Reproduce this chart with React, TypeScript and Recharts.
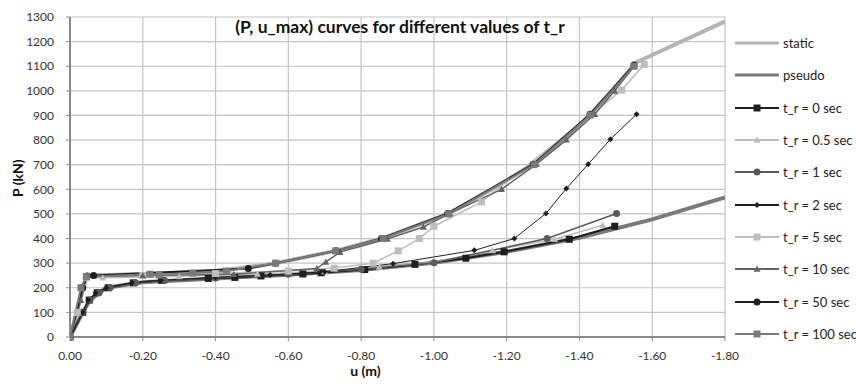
import { LineChart, Line, XAxis, YAxis, CartesianGrid } from 'recharts'

type Pt = [number, number]

// (u, P) pairs
const staticCurve: Pt[] = [
  [0, 0], [-0.046, 250], [-0.2, 256], [-0.4, 266], [-0.565, 300], [-0.73, 350], [-0.856, 400],
  [-1.038, 500], [-1.16, 600], [-1.273, 702], [-1.36, 800], [-1.43, 905], [-1.493, 1005],
  [-1.555, 1115], [-1.8, 1282],
]
const pseudoCurve: Pt[] = [
  [0, 0], [-0.035, 100], [-0.055, 150], [-0.1, 200], [-0.2, 222], [-0.4, 238], [-0.6, 253],
  [-0.8, 272], [-1.0, 302], [-1.2, 346], [-1.4, 403], [-1.6, 478], [-1.8, 567],
]
const tr0: Pt[] = [
  [0, 0], [-0.035, 100], [-0.053, 150], [-0.075, 180], [-0.105, 200], [-0.174, 220], [-0.252, 230],
  [-0.38, 238], [-0.453, 242], [-0.525, 248], [-0.64, 256], [-0.69, 261], [-0.81, 274],
  [-0.948, 295], [-1.088, 320], [-1.193, 346], [-1.372, 397], [-1.497, 450],
]
const tr05: Pt[] = [
  [0, 0], [-0.02, 100], [-0.03, 200], [-0.045, 240], [-0.09, 241], [-0.3, 246], [-0.515, 256],
  [-0.7, 266], [-0.85, 285], [-1.0, 305], [-1.161, 352], [-1.332, 397], [-1.464, 454],
]
const tr1: Pt[] = [
  [0, 0], [-0.035, 100], [-0.055, 150], [-0.08, 180], [-0.11, 200], [-0.18, 220], [-0.26, 230],
  [-0.4, 240], [-0.6, 255], [-0.8, 275], [-1.0, 302], [-1.311, 400], [-1.502, 502],
]
const tr2: Pt[] = [
  [0, 0], [-0.035, 100], [-0.05, 150], [-0.07, 180], [-0.1, 200], [-0.17, 220], [-0.25, 230],
  [-0.4, 242], [-0.55, 252], [-0.7, 265], [-0.888, 298], [-1.111, 352], [-1.221, 400],
  [-1.308, 502], [-1.364, 603], [-1.424, 702], [-1.485, 803], [-1.557, 905],
]
const tr5: Pt[] = [
  [0, 0], [-0.02, 100], [-0.035, 200], [-0.045, 245], [-0.2, 250], [-0.4, 258], [-0.6, 268],
  [-0.726, 280], [-0.833, 300], [-0.902, 350], [-0.96, 400], [-1.0, 450], [-1.131, 549],
  [-1.516, 1003], [-1.578, 1107],
]
const tr10: Pt[] = [
  [0, 0], [-0.03, 150], [-0.045, 245], [-0.2, 250], [-0.45, 255], [-0.678, 278], [-0.703, 305],
  [-0.742, 345], [-0.872, 398], [-0.971, 447], [-1.044, 502], [-1.186, 600], [-1.282, 702],
  [-1.364, 802], [-1.442, 905], [-1.497, 1000], [-1.55, 1100],
]
const tr50: Pt[] = [
  [0, 0], [-0.035, 200], [-0.047, 248], [-0.065, 250], [-0.49, 278], [-0.565, 300], [-0.731, 350],
  [-0.856, 400], [-1.038, 502], [-1.273, 702], [-1.429, 905], [-1.55, 1105],
]
const tr100: Pt[] = [
  [0, 0], [-0.03, 200], [-0.045, 245], [-0.22, 255], [-0.245, 252], [-0.337, 260], [-0.43, 268],
  [-0.565, 300], [-0.73, 350], [-0.86, 400], [-1.04, 500], [-1.275, 700], [-1.43, 902], [-1.55, 1100],
]

const xTicks = [0, -0.2, -0.4, -0.6, -0.8, -1.0, -1.2, -1.4, -1.6, -1.8]
const yTicks = [0, 100, 200, 300, 400, 500, 600, 700, 800, 900, 1000, 1100, 1200, 1300]

type Shape = 'none' | 'square' | 'triangle' | 'circle' | 'diamond'

const series: { name: string; pts: Pt[]; color: string; width: number; shape: Shape; size: number }[] = [
  { name: 'static', pts: staticCurve, color: '#b4b4b4', width: 4, shape: 'none', size: 0 },
  { name: 'pseudo', pts: pseudoCurve, color: '#7a7a7a', width: 4, shape: 'none', size: 0 },
  { name: 't_r = 0 sec', pts: tr0, color: '#1e1e1e', width: 2, shape: 'square', size: 7 },
  { name: 't_r = 0.5 sec', pts: tr05, color: '#bdbdbd', width: 1.5, shape: 'triangle', size: 7 },
  { name: 't_r = 1 sec', pts: tr1, color: '#5a5a5a', width: 1.5, shape: 'circle', size: 7 },
  { name: 't_r = 2 sec', pts: tr2, color: '#1e1e1e', width: 1, shape: 'diamond', size: 6 },
  { name: 't_r = 5 sec', pts: tr5, color: '#bdbdbd', width: 1.5, shape: 'square', size: 7 },
  { name: 't_r = 10 sec', pts: tr10, color: '#646464', width: 1.5, shape: 'triangle', size: 7 },
  { name: 't_r = 50 sec', pts: tr50, color: '#1e1e1e', width: 2, shape: 'circle', size: 7 },
  { name: 't_r = 100 sec', pts: tr100, color: '#7a7a7a', width: 2, shape: 'square', size: 7 },
]

function marker(shape: Shape, cx: number, cy: number, s: number, color: string, key?: string | number) {
  const h = s / 2
  if (shape === 'square') return <rect key={key} x={cx - h} y={cy - h} width={s} height={s} fill={color} />
  if (shape === 'circle') return <circle key={key} cx={cx} cy={cy} r={h} fill={color} />
  if (shape === 'triangle')
    return <polygon key={key} points={`${cx},${cy - h} ${cx + h},${cy + h * 0.8} ${cx - h},${cy + h * 0.8}`} fill={color} />
  if (shape === 'diamond')
    return <polygon key={key} points={`${cx},${cy - h} ${cx + h},${cy} ${cx},${cy + h} ${cx - h},${cy}`} fill={color} />
  return <g key={key} />
}

const font = 'Lato, "Open Sans", sans-serif'

// legend sits to the right of the plot, like the spreadsheet original
function LegendBox() {
  return (
    <div style={{ position: 'absolute', left: 734, top: 27, fontFamily: font, fontSize: 13, color: '#222', whiteSpace: 'nowrap' }}>
      {series.map((s) => (
        <div key={s.name} style={{ display: 'flex', alignItems: 'center', height: 32.3 }}>
          <svg width={46} height={12} style={{ marginRight: 3 }}>
            <line x1={1} y1={6} x2={45} y2={6} stroke={s.color} strokeWidth={s.shape === 'none' ? 3 : 2} />
            {marker(s.shape, 23, 6, s.size, s.color)}
          </svg>
          <span>{s.name}</span>
        </div>
      ))}
    </div>
  )
}

export default function App() {
  return (
    <div style={{ position: 'absolute', left: 0, top: 0, width: 856, height: 387, background: '#fff' }}>
      <LineChart width={856} height={387} margin={{ top: 17, right: 131, bottom: 20, left: 10 }}>
        <CartesianGrid stroke="#c4c4c4" strokeWidth={1.2} />
        <XAxis
          type="number" dataKey="u" domain={[-1.8, 0]} reversed ticks={xTicks}
          allowDataOverflow height={30}
          tickFormatter={(v: number) => v.toFixed(2)}
          tick={{ fill: '#333', fontSize: 12, fontFamily: font }}
          tickSize={4} tickMargin={10}
          axisLine={{ stroke: '#8a8a8a', strokeWidth: 2 }} tickLine={{ stroke: '#8a8a8a' }}
          label={{ value: 'u (m)', position: 'insideBottom', offset: 0, dx: -32, dy: 9, fill: '#111', fontSize: 14, fontWeight: 700, fontFamily: font }}
        />
        <YAxis
          type="number" domain={[0, 1300]} ticks={yTicks} width={60}
          tick={{ fill: '#333', fontSize: 12, fontFamily: font }}
          tickSize={4} tickMargin={12}
          axisLine={{ stroke: '#8a8a8a', strokeWidth: 2 }} tickLine={{ stroke: '#8a8a8a' }}
          label={{ value: 'P (kN)', angle: -90, position: 'insideLeft', offset: 0, dx: 8, dy: 20, fill: '#111', fontSize: 14, fontWeight: 700, fontFamily: font }}
        />
        {series.map((s) => (
          <Line
            key={s.name}
            name={s.name}
            data={s.pts.map(([u, P]) => ({ u, P }))}
            dataKey="P"
            stroke={s.color}
            strokeWidth={s.width}
            dot={s.shape === 'none' ? false : (p: { cx: number; cy: number; index: number }) =>
              marker(s.shape, p.cx, p.cy, s.size, s.color, `${s.name}-${p.index}`)}
            activeDot={false}
            isAnimationActive={false}
          />
        ))}
      </LineChart>
      <div style={{
        position: 'absolute', left: 70, width: 660, top: 16, textAlign: 'center',
        fontFamily: font, fontWeight: 700, fontSize: 17.5, color: '#111',
      }}>
        (P, u_max) curves for different values of t_r
      </div>
      <LegendBox />
    </div>
  )
}
